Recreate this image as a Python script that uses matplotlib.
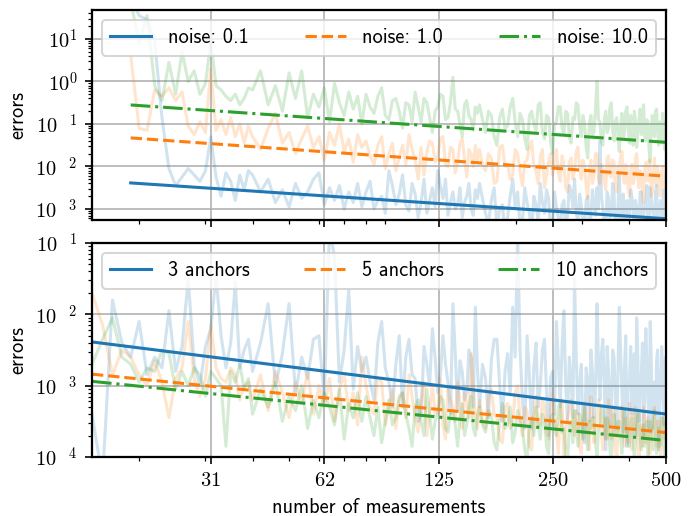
import numpy as np
import matplotlib
matplotlib.use("Agg")
import matplotlib.pyplot as plt
from matplotlib.ticker import FixedLocator, FuncFormatter, NullFormatter

plt.rcParams["font.family"] = ["cmss10", "DejaVu Sans"]
plt.rcParams["mathtext.fontset"] = "cm"
plt.rcParams["font.size"] = 10
plt.rcParams["axes.linewidth"] = 1.1
plt.rcParams["axes.unicode_minus"] = False

# x grid of the measurement counts
x_top = list(range(19, 40)) + list(range(40, 80, 2)) + list(range(80, 160, 2)) + list(range(160, 500, 3)) + [500]
x_bottom = list(range(15, 40)) + list(range(40, 80, 2)) + list(range(80, 160, 2)) + list(range(160, 500, 3)) + [500]

# ---- top panel: raw errors (log10) per noise level ----
noise_01_log = [
    2.0, 1.55, 1.45, 0.95, -0.85, -2.05, -2.45, -2.25, -2.05, -2.2, -2.35, -2.1, -1.3, -2.25, -2.7, -2.15, -2.35, -2.8, -2.2, -2.55, -2.1,
    -2.2, -2.6, -2.3, -2.85, -2.55, -2.95, -2.4, -2.75, -2.6, -2.3, -2.15, -2.9, -2.5, -2.8, -2.45, -3.0, -2.6, -2.85, -2.4, -2.95,
    -2.6, -2.35, -3.0, -2.8, -2.7, -3.1, -2.1, -2.45, -2.9, -2.65,
    -2.2, -2.9, -3.05, -2.4, -2.65, -3.2, -2.85, -2.3, -3.1, -2.8,
    -2.5, -2.95, -2.1, -2.45, -2.75, -2.3, -3.15, -2.85, -2.6, -3.0,
    -2.9, -2.5, -3.2, -2.85, -2.7, -2.4, -3.0, -3.15, -2.55, -2.75,
    -2.4, -2.75, -3.1, -3.35, -2.8, -2.5, -3.4, -3.0, -2.9, -3.55,
    -3.2, -2.7, -2.3, -2.95, -2.6, -3.4, -3.3, -2.5, -2.85, -3.1,
    -3.5, -2.7, -2.9, -3.3, -2.4, -2.85, -3.1, -2.55, -2.75, -3.45,
    -3.4, -2.6, -2.95, -3.2, -3.6, -2.9, -2.8, -3.5, -3.15, -2.45,
    -2.6, -2.95, -2.3, -3.1, -3.3, -2.65, -2.9, -3.4, -3.5, -2.8,
    -2.7, -3.3, -3.2, -2.55, -2.85, -3.15, -2.5, -3.0, -1.4, -2.7,
    -3.0, -3.45, -3.4, -2.6, -2.75, -3.2, -3.1, -2.4, -2.65, -3.55,
    -3.5, -2.9, -2.2, -3.25, -3.0, -2.65, -3.35, -3.1, -2.8, -3.5,
    -3.2, -2.55, -2.7, -3.0, -3.6, -2.8, -2.95, -3.4, -3.3, -2.6,
    -2.6, -3.3, -3.15, -2.95, -2.85, -2.45, -3.45, -3.6, -2.5, -2.75,
    -3.0, -3.15, -3.3, -2.6, -2.45, -3.35, -3.1, -2.9, -2.8, -3.05,
    -3.5, -2.55, -2.9, -3.4, -3.2,
]
noise_1_log = [
    0.62, -1.1, -1.15, -0.2, -0.35, -0.15, -0.45, -0.25, -1.05, -1.25, -0.95, -1.2, 0.3, -1.15, -0.9, -1.25, -0.85, -1.3, -1.0, -1.45, -1.05,
    -1.3, -1.6, -1.1, -0.75, -1.45, -1.2, -1.7, -1.35, -1.05, -1.55, -1.3, -1.85, -1.2, -1.5, -1.0, -1.65, -1.35, -1.9, -1.25, -1.55,
    -1.4, -1.75, -1.95, -1.5, -1.3, -2.05, -1.7, -1.45, -2.1, -1.8,
    -1.5, -1.95, -1.25, -1.6, -1.85, -2.3, -1.55, -2.2, -1.65, -1.4,
    -1.45, -1.9, -1.75, -1.35, -1.3, -1.95, -2.0, -1.55, -1.6, -2.15,
    -1.9, -1.45, -1.35, -1.8, -2.25, -1.6, -1.7, -2.0, -1.5, -1.85,
    -1.6, -1.95, -2.1, -1.7, -1.8, -2.4, -2.35, -1.55, -1.5, -2.0,
    -1.95, -2.3, -2.2, -1.6, -1.7, -2.15, -2.45, -1.9, -1.85, -1.55,
    -1.4, -2.0, -2.1, -2.4, -1.75, -1.6, -2.5, -2.2, -1.9, -1.7,
    -2.2, -1.85, -1.6, -2.15, -2.35, -1.75, -1.95, -2.5, -2.6, -1.9,
    -1.8, -2.3, -2.1, -1.65, -1.55, -2.05, -2.3, -1.85, -2.0, -2.45,
    -2.75, -2.1, -1.85, -2.4, -2.2, -1.7, -1.7, -2.3, -2.4, -1.95,
    -2.05, -2.35, -2.55, -1.8, -1.75, -2.2, -2.25, -1.85, -1.9, -2.5,
    -2.6, -2.0, -2.1, -1.75, -1.65, -2.3, -2.4, -1.95, -2.0, -2.55,
    -2.7, -2.05, -1.95, -2.4, -2.3, -1.8, -1.7, -2.25, -2.5, -2.1,
    -2.15, -2.6, -2.85, -2.05, -1.9, -2.3, -2.35, -1.85, -2.05, -2.7,
    -2.6, -2.2, -1.8, -2.35, -2.45, -2.0, -2.2, -2.65, -2.7, -2.1,
    -2.0, -2.45, -2.5, -2.15, -2.3,
]
noise_10_log = [
    1.9, 0.9, 1.55, -0.1, -0.45, 0.45, -0.3, 0.7, 0.0, 0.25, -0.3, -0.05, 0.95, -0.1, -0.2, -0.35, -0.45, -0.3, -0.55, -0.4, -0.15,
    -0.2, 0.25, -0.55, -0.1, -0.7, 0.2, -0.4, 0.25, -0.85, -0.3, -0.6, -0.15, -0.95, -0.05, -0.5, -0.8, -0.25, -0.65, -0.35, -1.0,
    -0.3, -0.6, -0.75, -0.35, -0.15, -0.8, -0.9, -0.45, -0.4, -0.7,
    -1.1, -0.5, -0.55, -0.95, -0.25, -0.6, -0.95, -0.4, -0.5, -0.85,
    -1.2, -0.7, -0.6, -0.3, -0.35, -0.9, -0.85, -0.5, 0.1, -0.65,
    -0.7, -1.0, -1.3, -0.55, -0.45, -0.8, -0.9, -1.15, -0.6, -0.75,
    -0.55, -0.9, -1.2, -0.7, -0.8, -1.3, -1.5, -0.85, -0.65, -1.1,
    -1.05, -0.6, -0.4, -0.95, -1.3, -0.75, -0.9, -1.35, -1.6, -0.8,
    -0.7, -1.0, -1.15, -0.55, -0.5, -1.2, -1.35, -0.8, -0.85, -1.4,
    -1.7, -1.0, -0.95, -0.6, -0.6, -1.1, -1.25, -0.7, -0.75, -1.3,
    -1.45, -0.85, -0.9, -0.5, -0.55, -1.05, -1.3, -0.8, -1.0, -1.55,
    -1.8, -1.0, -0.8, -1.25, -1.2, -0.65, 0.0, -0.9, -0.95, -1.4,
    -1.5, -0.9, -0.7, -1.2, -1.1, -0.6, -0.5, -1.15, -1.4, -0.95,
    -0.85, -1.3, -1.65, -1.05, -0.75, -1.35, -1.2, -0.7, -0.6, -1.1,
    -1.45, -0.8, -1.0, -1.5, -0.7, -0.95, -1.55, -1.2, -0.9, -0.65,
    -1.25, -0.85, -0.55, -1.3, -1.4, -0.9, -0.95, -1.6, -1.9, -1.1,
    -0.8, -1.2, -1.3, -0.7, -0.65, -1.15, -1.5, -0.95, -1.05, -1.45,
    -0.75, -1.3, -1.6, -0.95, -1.1,
]

# ---- bottom panel: raw errors (log10) per number of anchors ----
anchors_3_log = [
    -3.4, -4.3, -1.8, -2.4, -2.6, -2.1, -2.85, -2.6, -2.75, -1.95, -2.8, -2.45, -1.5, -2.7, -3.0, -2.45, -2.2, -1.45, -2.3, -2.75, -2.4, -1.55, -2.75, -2.5, -2.35,
    -2.8, -2.4, -1.85, -3.0, -2.55, -1.85, -3.1, -2.6, -2.9, -2.35, -2.3, -3.2, -0.8, -1.2, -2.95, -2.5, -1.65, -3.05, -2.45, -2.8,
    -2.6, -2.95, -3.2, -2.4, -2.1, -2.75, -2.95, -3.3, -2.7, -2.3,
    -3.3, -2.6, -2.35, -2.85, -2.9, -3.5, -3.4, -2.45, -2.7, -3.0,
    -2.2, -2.6, -3.1, -2.85, -2.3, -2.7, -2.95, -3.4, -1.85, -2.55,
    -3.35, -2.65, -2.8, -3.2, -3.1, -2.5, -2.6, -3.3, -1.9, -2.75,
    -3.3, -2.7, -2.9, -3.45, -2.65, -2.35, -2.35, -3.0, -3.5, -2.8,
    -2.55, -3.1, -1.9, -2.6, -0.9, -2.5, -3.2, -3.6, -2.3, -2.85,
    -3.6, -2.75, -2.4, -3.3, -3.0, -2.5, -2.35, -3.1, -3.7, -2.9,
    -2.8, -3.4, -2.1, -2.65, -3.3, -2.45, -1.95, -3.0, -3.5, -2.6,
    -2.9, -3.45, -1.5, -2.6, -3.4, -2.95, -2.7, -3.65, -3.8, -2.75,
    -2.95, -3.5, -2.5, -2.8, -3.45, -3.1, -1.85, -2.7, -3.2, -2.55,
    -2.35, -3.0, -3.9, -2.45, -2.8, -3.55, -3.3, -2.5, -2.6, -3.2,
    -3.6, -2.75, -1.9, -2.55, -3.1, -3.65, -2.75, -2.3, -3.85, -3.0,
    -2.9, -2.45, -3.4, -3.0, -2.55, -3.7, -2.05, -2.6, -3.5, -3.1,
    -2.85, -2.4, -3.7, -3.2, -2.2, -2.75, -3.15, -3.6, -2.1, -2.65,
    -3.6, -3.05, -2.95, -3.4, -2.65, -2.5, -3.9, -3.3, -3.0, -2.45,
    -2.7, -3.55, -2.95, -2.6, -3.3,
]
anchors_5_log = [
    -1.7, -2.15, -2.85, -2.5, -2.6, -2.85, -3.0, -2.65, -2.95, -3.45, -2.9, -2.75, -2.1, -2.9, -3.15, -2.9, -2.15, -2.75, -2.9, -2.95, -2.75, -2.85, -3.2, -3.0, -2.95,
    -3.2, -2.85, -3.35, -2.8, -3.1, -3.45, -2.95, -3.25, -2.8, -3.4, -3.0, -3.3, -2.9, -3.5, -3.05, -2.85, -3.35, -3.1, -3.55, -2.6,
    -3.0, -3.3, -3.4, -2.9, -2.95, -3.55, -3.3, -3.05, -3.6, -3.2,
    -3.1, -3.45, -2.85, -3.15, -3.45, -3.65, -3.2, -2.95, -3.7, -3.35,
    -3.0, -3.4, -3.35, -2.9, -3.55, -3.75, -3.05, -3.2, -3.3, -3.5,
    -2.95, -3.25, -3.6, -3.1, -3.25, -3.45, -2.55, -3.0, -3.4, -3.6,
    -3.2, -3.5, -3.6, -3.15, -3.05, -3.4, -3.45, -3.75, -3.8, -3.3,
    -3.25, -3.6, -3.5, -3.1, -3.0, -3.45, -3.7, -3.3, -3.35, -3.85,
    -3.9, -3.4, -3.15, -3.55, -3.55, -3.2, -3.3, -3.65, -3.75, -3.35,
    -3.1, -3.45, -3.6, -3.95, -3.35, -3.2, -4.1, -3.6, -3.45, -3.3,
    -3.2, -3.55, -3.7, -3.35, -3.4, -3.85, -3.95, -3.5, -3.25, -3.45,
    -3.6, -3.9, -3.15, -3.4, -3.8, -3.55, -3.45, -3.2, -3.3, -3.65,
    -3.9, -3.45, -3.5, -3.75, -3.2, -3.5, -3.75, -3.3, -3.4, -3.9,
    -4.05, -3.6, -3.55, -3.3, -3.3, -3.7, -3.85, -3.45, -3.5, -3.8,
    -3.25, -3.6, -3.9, -3.4, -3.6, -3.3, -3.35, -3.7, -4.1, -3.55,
    -3.55, -3.85, -3.3, -3.5, -3.8, -3.45, -3.45, -3.95, -3.95, -3.6,
    -3.6, -3.4, -3.3, -3.75, -3.85, -3.5, -3.5, -3.9, -4.0, -3.45,
    -3.45, -3.7, -3.75, -3.5, -3.55,
]
anchors_10_log = [
    -2.7, -2.35, -2.05, -2.6, -2.7, -2.95, -2.75, -2.8, -2.5, -2.55, -3.05, -2.8, -3.0, -2.75, -2.85, -3.15, -2.8, -2.9, -3.0, -3.85, -2.8, -2.95, -2.7, -3.05, -2.9,
    -3.4, -3.05, -3.3, -2.95, -3.5, -3.15, -3.35, -3.0, -3.6, -3.2, -3.45, -3.1, -3.3, -3.55, -3.05, -3.75, -3.25, -3.45, -3.1, -3.5,
    -3.15, -3.45, -3.7, -3.3, -3.8, -3.5, -3.2, -3.55, -3.45, -3.15,
    -3.1, -3.4, -3.6, -3.85, -3.3, -3.2, -3.5, -3.7, -3.05, -3.4,
    -3.75, -3.5, -3.4, -3.15, -3.2, -3.6, -3.65, -3.4, -3.35, -3.55,
    -3.85, -3.45, -3.25, -3.7, -3.55, -3.3, -3.15, -3.6, -3.7, -3.4,
    -3.3, -3.55, -3.65, -3.35, -3.4, -3.8, -3.9, -3.5, -3.25, -3.6,
    -3.55, -3.3, -3.8, -3.65, -3.35, -3.5, -3.6, -3.9, -4.05, -3.6,
    -3.45, -3.7, -3.3, -3.55, -3.75, -3.4, -3.5, -3.85, -3.95, -3.45,
    -3.4, -3.6, -3.7, -3.3, -3.25, -3.65, -3.6, -3.95, -4.1, -3.55,
    -3.5, -3.8, -3.35, -3.6, -3.85, -3.4, -3.55, -3.75, -3.3, -3.65,
    -3.9, -3.5, -3.6, -3.45, -3.45, -3.8, -4.0, -3.6, -3.5, -3.3,
    -3.3, -3.55, -3.75, -3.45, -3.55, -3.9, -4.1, -3.65, -3.4, -3.6,
    -3.7, -3.5, -3.5, -3.75, -3.95, -3.55, -3.35, -3.6, -3.65, -3.85,
    -3.85, -3.5, -3.45, -3.7, -4.05, -3.8, -3.6, -3.4, -3.4, -3.75,
    -3.9, -3.6, -3.55, -3.85, -3.75, -3.5, -4.15, -3.7, -3.5, -3.6,
    -3.7, -3.9, -3.35, -3.5, -3.95, -3.75, -3.6, -3.85, -3.8, -3.45,
    -3.45, -3.85, -4.0, -3.7, -3.65,
]

# fitted trends (end points)
fit_x_top = [19, 500]
fit_noise = {"0.1": [4.1e-3, 5.9e-4], "1.0": [4.7e-2, 5.9e-3], "10.0": [0.28, 0.037]}
fit_x_bottom = [15, 500]
fit_anchors = {"3": [4.1e-3, 4.0e-4], "5": [1.45e-3, 2.2e-4], "10": [1.15e-3, 1.7e-4]}

colors = ["#1f77b4", "#ff7f0e", "#2ca02c"]
styles = ["-", "--", "-."]


def yfmt(v, pos):
    e = int(round(np.log10(v)))
    if e < 0:
        return r"$10^{\quad %d}$" % (-e)
    return r"$10^{%d}$" % e


fig = plt.figure(figsize=(698 / 147, 516 / 147), dpi=147)
ax1 = fig.add_axes([92 / 698, 1 - 220 / 516, 574 / 698, 210 / 516])
ax2 = fig.add_axes([92 / 698, 1 - 457 / 516, 574 / 698, 214 / 516], sharex=ax1)

raw_top = [noise_01_log, noise_1_log, noise_10_log]
for vals, c in zip(raw_top, colors):
    ax1.plot(x_top, 10 ** np.array(vals), color=c, alpha=0.2, lw=1.5)
for (lab, ys), c, ls in zip(fit_noise.items(), colors, styles):
    ax1.plot(fit_x_top, ys, color=c, ls=ls, lw=1.5, label="noise: " + lab)

raw_bottom = [anchors_3_log, anchors_5_log, anchors_10_log]
for vals, c in zip(raw_bottom, colors):
    ax2.plot(x_bottom, 10 ** np.array(vals), color=c, alpha=0.2, lw=1.5)
for (lab, ys), c, ls in zip(fit_anchors.items(), colors, styles):
    ax2.plot(fit_x_bottom, ys, color=c, ls=ls, lw=1.5, label=lab + " anchors")

for ax in (ax1, ax2):
    ax.set_xscale("log")
    ax.set_yscale("log")
    ax.grid(True, which="major")
    ax.set_ylabel("errors")
    ax.yaxis.set_major_formatter(FuncFormatter(yfmt))
    ax.yaxis.set_minor_formatter(NullFormatter())
    ax.legend(loc="upper left", ncol=3, mode="expand")

ax1.set_ylim(5.5e-4, 48)
ax2.set_ylim(1e-4, 1e-1)
ax2.set_xlim(15, 500)
ax2.xaxis.set_major_locator(FixedLocator([31, 62, 125, 250, 500]))
ax2.xaxis.set_major_formatter(FuncFormatter(lambda v, p: r"$%d$" % int(round(v))))
ax2.xaxis.set_minor_formatter(NullFormatter())
plt.setp(ax1.get_xticklabels(), visible=False)
ax2.set_xlabel("number of measurements")

fig.savefig("out.png", dpi=147)
